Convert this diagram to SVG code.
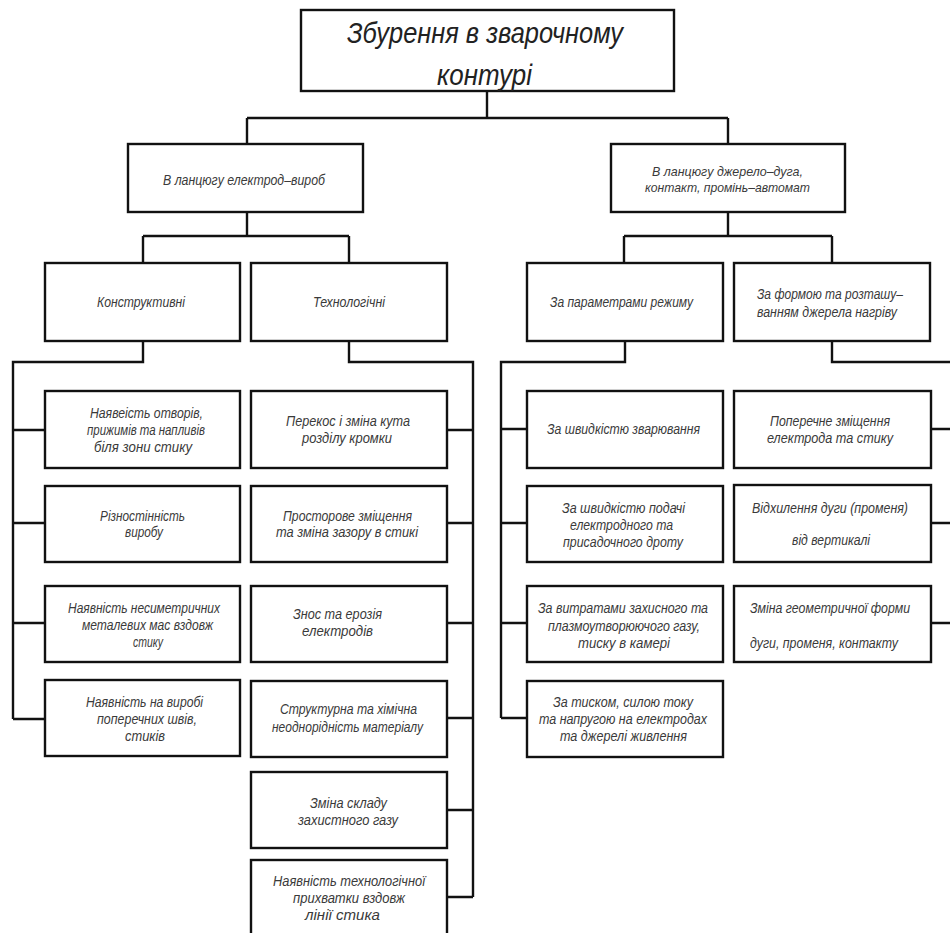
<svg xmlns="http://www.w3.org/2000/svg" width="950" height="933" viewBox="0 0 950 933">
<style>
.box{fill:#fff;stroke:#111;stroke-width:2.4}
.conn{fill:none;stroke:#111;stroke-width:2.4;stroke-linejoin:miter}
text{font-family:"Liberation Sans","DejaVu Sans",sans-serif;font-style:italic;font-size:14px;fill:#3a3a3a}
.title{font-size:30px;fill:#222}
.h{font-size:15px}
.s{font-size:13px}
</style>
<rect width="950" height="933" fill="#fff"/>
<g id="connectors">
<path class="conn" d="M487 91V118M247 118H728M247 118V144M728 118V144"/>
<path class="conn" d="M247 212V236M143 236H349M143 236V263M349 236V263"/>
<path class="conn" d="M728 212V236M624 236H832M624 236V263M832 236V263"/>
<path class="conn" d="M143 341V362H13V719M13 430H45M13 523H45M13 623H45M13 719H45"/>
<path class="conn" d="M349 341V362H473V897M447 430H473M447 523H473M447 623H473M447 718H473M447 810H473M447 897H473"/>
<path class="conn" d="M625 341V362H501V718M501 429H527M501 523H527M501 623H527M501 718H527"/>
<path class="conn" d="M832 341V362H955V623M931 429H955M931 523H955M931 623H955"/>
</g>
<g id="root">
<rect class="box" x="301" y="10" width="373" height="81"/>
<text class="title" x="347" y="43" textLength="276" lengthAdjust="spacingAndGlyphs">Збурення в зварочному</text>
<text class="title" x="437" y="85" textLength="95" lengthAdjust="spacingAndGlyphs">контурі</text>
</g>
<g id="chain-electrode">
<rect class="box" x="128" y="144" width="235" height="68"/>
<text class="h" x="163" y="185" textLength="162" lengthAdjust="spacingAndGlyphs">В ланцюгу електрод–вироб</text>
</g>
<g id="chain-source">
<rect class="box" x="611" y="144" width="234" height="68"/>
<text class="s" x="652" y="176" textLength="151" lengthAdjust="spacingAndGlyphs">В ланцюгу джерело–дуга,</text>
<text class="s" x="645" y="192" textLength="165" lengthAdjust="spacingAndGlyphs">контакт, промінь–автомат</text>
</g>
<g id="konstruktyvni">
<rect class="box" x="45" y="263" width="195" height="78"/>
<text class="h" x="97" y="307" textLength="88" lengthAdjust="spacingAndGlyphs">Конструктивні</text>
</g>
<g id="tekhnolohichni">
<rect class="box" x="251" y="263" width="196" height="78"/>
<text class="h" x="313" y="307" textLength="72" lengthAdjust="spacingAndGlyphs">Технологічні</text>
</g>
<g id="rezhym">
<rect class="box" x="527" y="263" width="196" height="78"/>
<text x="550" y="307" textLength="143" lengthAdjust="spacingAndGlyphs">За параметрами режиму</text>
</g>
<g id="forma">
<rect class="box" x="734" y="263" width="196" height="78"/>
<text x="757" y="299" textLength="146" lengthAdjust="spacingAndGlyphs">За формою та розташу–</text>
<text x="757" y="317" textLength="140" lengthAdjust="spacingAndGlyphs">ванням джерела нагріву</text>
</g>
<g id="k1">
<rect class="box" x="45" y="391" width="195" height="77"/>
<text x="90" y="418" textLength="113" lengthAdjust="spacingAndGlyphs">Наявеість отворів,</text>
<text x="87" y="435" textLength="118" lengthAdjust="spacingAndGlyphs">прижимів та напливів</text>
<text x="94" y="452" textLength="98" lengthAdjust="spacingAndGlyphs">біля зони стику</text>
</g>
<g id="k2">
<rect class="box" x="45" y="486" width="195" height="76"/>
<text x="100" y="521" textLength="85" lengthAdjust="spacingAndGlyphs">Різностінність</text>
<text x="125" y="537" textLength="38" lengthAdjust="spacingAndGlyphs">виробу</text>
</g>
<g id="k3">
<rect class="box" x="45" y="586" width="195" height="76"/>
<text x="68" y="613" textLength="152" lengthAdjust="spacingAndGlyphs">Наявність несиметричних</text>
<text x="82" y="630" textLength="131" lengthAdjust="spacingAndGlyphs">металевих мас вздовж</text>
<text x="133" y="647" textLength="30" lengthAdjust="spacingAndGlyphs">стику</text>
</g>
<g id="k4">
<rect class="box" x="45" y="680" width="195" height="76"/>
<text x="86" y="707" textLength="117" lengthAdjust="spacingAndGlyphs">Наявність на виробі</text>
<text x="97" y="724" textLength="100" lengthAdjust="spacingAndGlyphs">поперечних швів,</text>
<text x="125" y="741" textLength="40" lengthAdjust="spacingAndGlyphs">стиків</text>
</g>
<g id="t1">
<rect class="box" x="251" y="391" width="196" height="77"/>
<text x="286" y="426" textLength="124" lengthAdjust="spacingAndGlyphs">Перекос і зміна кута</text>
<text x="302" y="443" textLength="90" lengthAdjust="spacingAndGlyphs">розділу кромки</text>
</g>
<g id="t2">
<rect class="box" x="251" y="486" width="196" height="76"/>
<text x="283" y="521" textLength="129" lengthAdjust="spacingAndGlyphs">Просторове зміщення</text>
<text x="276" y="537" textLength="142" lengthAdjust="spacingAndGlyphs">та зміна зазору в стикі</text>
</g>
<g id="t3">
<rect class="box" x="251" y="586" width="196" height="76"/>
<text x="293" y="619" textLength="89" lengthAdjust="spacingAndGlyphs">Знос та ерозія</text>
<text x="302" y="636" textLength="71" lengthAdjust="spacingAndGlyphs">електродів</text>
</g>
<g id="t4">
<rect class="box" x="251" y="681" width="196" height="76"/>
<text x="280" y="714" textLength="137" lengthAdjust="spacingAndGlyphs">Структурна та хімічна</text>
<text x="272" y="732" textLength="151" lengthAdjust="spacingAndGlyphs">неоднорідність матеріалу</text>
</g>
<g id="t5">
<rect class="box" x="251" y="772" width="196" height="76"/>
<text x="310" y="808" textLength="77" lengthAdjust="spacingAndGlyphs">Зміна складу</text>
<text x="298" y="825" textLength="100" lengthAdjust="spacingAndGlyphs">захистного газу</text>
</g>
<g id="t6">
<rect class="box" x="251" y="860" width="196" height="80"/>
<text x="273" y="886" textLength="152" lengthAdjust="spacingAndGlyphs">Наявність технологічної</text>
<text x="293" y="903" textLength="112" lengthAdjust="spacingAndGlyphs">прихватки вздовж</text>
<text x="305" y="920" textLength="75" lengthAdjust="spacingAndGlyphs">лінії стика</text>
</g>
<g id="r1">
<rect class="box" x="527" y="391" width="196" height="77"/>
<text x="547" y="434" textLength="153" lengthAdjust="spacingAndGlyphs">За швидкістю зварювання</text>
</g>
<g id="r2">
<rect class="box" x="527" y="486" width="196" height="76"/>
<text x="562" y="513" textLength="123" lengthAdjust="spacingAndGlyphs">За швидкістю подачі</text>
<text x="570" y="530" textLength="103" lengthAdjust="spacingAndGlyphs">електродного та</text>
<text x="563" y="547" textLength="120" lengthAdjust="spacingAndGlyphs">присадочного дроту</text>
</g>
<g id="r3">
<rect class="box" x="527" y="586" width="196" height="76"/>
<text x="538" y="613" textLength="170" lengthAdjust="spacingAndGlyphs">За витратами захисного та</text>
<text x="548" y="631" textLength="152" lengthAdjust="spacingAndGlyphs">плазмоутворюючого газу,</text>
<text x="578" y="648" textLength="92" lengthAdjust="spacingAndGlyphs">тиску в камері</text>
</g>
<g id="r4">
<rect class="box" x="527" y="681" width="196" height="76"/>
<text x="553" y="707" textLength="140" lengthAdjust="spacingAndGlyphs">За тиском, силою току</text>
<text x="539" y="724" textLength="168" lengthAdjust="spacingAndGlyphs">та напругою на електродах</text>
<text x="560" y="741" textLength="127" lengthAdjust="spacingAndGlyphs">та джерелі живлення</text>
</g>
<g id="f1">
<rect class="box" x="734" y="391" width="197" height="77"/>
<text x="770" y="426" textLength="120" lengthAdjust="spacingAndGlyphs">Поперечне зміщення</text>
<text x="767" y="443" textLength="126" lengthAdjust="spacingAndGlyphs">електрода та стику</text>
</g>
<g id="f2">
<rect class="box" x="734" y="485" width="197" height="77"/>
<text x="752" y="513" textLength="156" lengthAdjust="spacingAndGlyphs">Відхилення дуги (променя)</text>
<text x="792" y="545" textLength="78" lengthAdjust="spacingAndGlyphs">від вертикалі</text>
</g>
<g id="f3">
<rect class="box" x="734" y="586" width="197" height="76"/>
<text x="750" y="613" textLength="160" lengthAdjust="spacingAndGlyphs">Зміна геометричної форми</text>
<text x="750" y="648" textLength="148" lengthAdjust="spacingAndGlyphs">дуги, променя, контакту</text>
</g>
</svg>
